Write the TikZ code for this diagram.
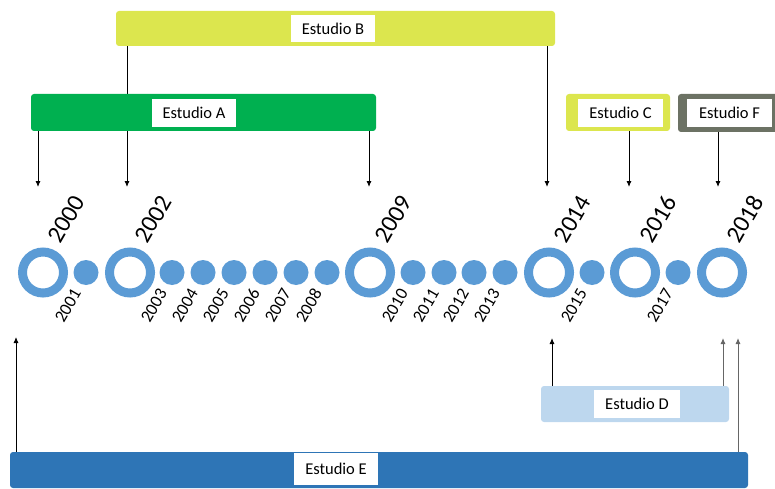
\documentclass[tikz,border=0pt]{standalone}
\usepackage{fontspec}
\setmainfont{Carlito}
\usetikzlibrary{arrows.meta}

\definecolor{limebar}{HTML}{DCE64E}
\definecolor{greenbar}{HTML}{00B050}
\definecolor{olivebar}{HTML}{6C7264}
\definecolor{palebar}{HTML}{BDD7EE}
\definecolor{bluebar}{HTML}{2E75B6}
\definecolor{ringblue}{HTML}{5B9BD5}

\tikzset{
  bar/.style={rectangle, rounded corners=3pt, draw=none, inner sep=0pt},
  tag/.style={rectangle, fill=white, inner sep=0pt, minimum width=84pt, minimum height=28pt,
    font=\fontsize{16.5}{18}\selectfont},
  ring/.style={circle, draw=ringblue, line width=9pt, minimum size=41pt, inner sep=0pt},
  dot/.style={circle, fill=ringblue, minimum size=25pt, inner sep=0pt},
  bigyear/.style={rotate=60, anchor=south west, inner sep=0pt, font=\fontsize{24.5}{26}\selectfont},
  smallyear/.style={rotate=60, anchor=south east, inner sep=0pt, font=\fontsize{17.5}{19}\selectfont},
  arr/.style={line width=0.9pt, -{Latex[length=6pt,width=5pt]}},
  grayarr/.style={arr, draw=black!60},
}

\begin{document}
\begin{tikzpicture}[x=1pt, y=-1pt]
\useasboundingbox (0,0) rectangle (775,489);

% ---- timeline: rings for key years, dots for the others ----
\foreach \yr/\xx in {2000/43, 2002/130, 2009/370, 2014/549, 2016/635, 2018/722}{
  \node[ring] (y\yr) at (\xx,272.5) {};
  \path (y\yr.center) ++(18,-27.5) node[bigyear] {\yr};
}
\foreach \yr/\xx in {2001/86, 2003/172, 2004/203, 2005/234, 2006/265, 2007/296, 2008/327,
                     2010/413, 2011/444, 2012/474, 2013/505, 2015/592, 2017/678}{
  \node[dot] (y\yr) at (\xx,272.5) {};
  \path (y\yr.center) ++(-4,20.5) node[smallyear] {\yr};
}

% ---- arrow ends above and below the timeline ----
\coordinate (tA1) at (38,187);
\coordinate (tB1) at (127,187);
\coordinate (tA2) at (369,187);
\coordinate (tB2) at (547,187);
\coordinate (tC)  at (629,187);
\coordinate (tF)  at (718,187);
\coordinate (bE1) at (16,337);
\coordinate (bD1) at (552,338);
\coordinate (bD2) at (723,338);
\coordinate (bE2) at (738,338);

% ---- Estudio B (its left leader runs behind Estudio A) ----
\node[bar, fill=limebar, minimum width=439pt, minimum height=35pt] (estB) at (335.5,28.5) {};
\node[tag, minimum height=27pt] (labB) at (333,28.5) {Estudio B};
\draw[arr] (estB.south -| tB1) -- (tB1);
\draw[arr] (estB.south -| tB2) -- (tB2);

% ---- Estudio A ----
\node[bar, fill=greenbar, minimum width=345pt, minimum height=37pt] (estA) at (203.5,112.5) {};
\node[tag] (labA) at (194,113) {Estudio A};
\draw[arr] (estA.south -| tA1) -- (tA1);
\draw[arr] (estA.south -| tA2) -- (tA2);

% ---- Estudio C ----
\node[bar, fill=limebar, minimum width=104pt, minimum height=37pt] (estC) at (618,112.5) {};
\node[tag, minimum width=85pt] (labC) at (620.5,113) {Estudio C};
\draw[arr] (estC.south -| tC) -- (tC);

% ---- Estudio F ----
\node[bar, fill=olivebar, minimum width=104pt, minimum height=38pt] (estF) at (730,113) {};
\node[tag, minimum width=85pt] (labF) at (729.5,113) {Estudio F};
\draw[arr] (estF.south -| tF) -- (tF);

% ---- Estudio D ----
\node[bar, fill=palebar, minimum width=188pt, minimum height=36pt] (estD) at (635,404) {};
\node[tag, minimum width=86pt] (labD) at (637,404) {Estudio D};
\draw[arr] (estD.north -| bD1) -- (bD1);
\draw[grayarr] (estD.north -| bD2) -- (bD2);

% ---- Estudio E ----
\node[bar, fill=bluebar, minimum width=738pt, minimum height=36pt] (estE) at (379,470) {};
\node[tag, minimum height=32pt] (labE) at (336,469) {Estudio E};
\draw[arr] (estE.north -| bE1) -- (bE1);
\draw[grayarr] (estE.north -| bE2) -- (bE2);
\end{tikzpicture}
\end{document}
